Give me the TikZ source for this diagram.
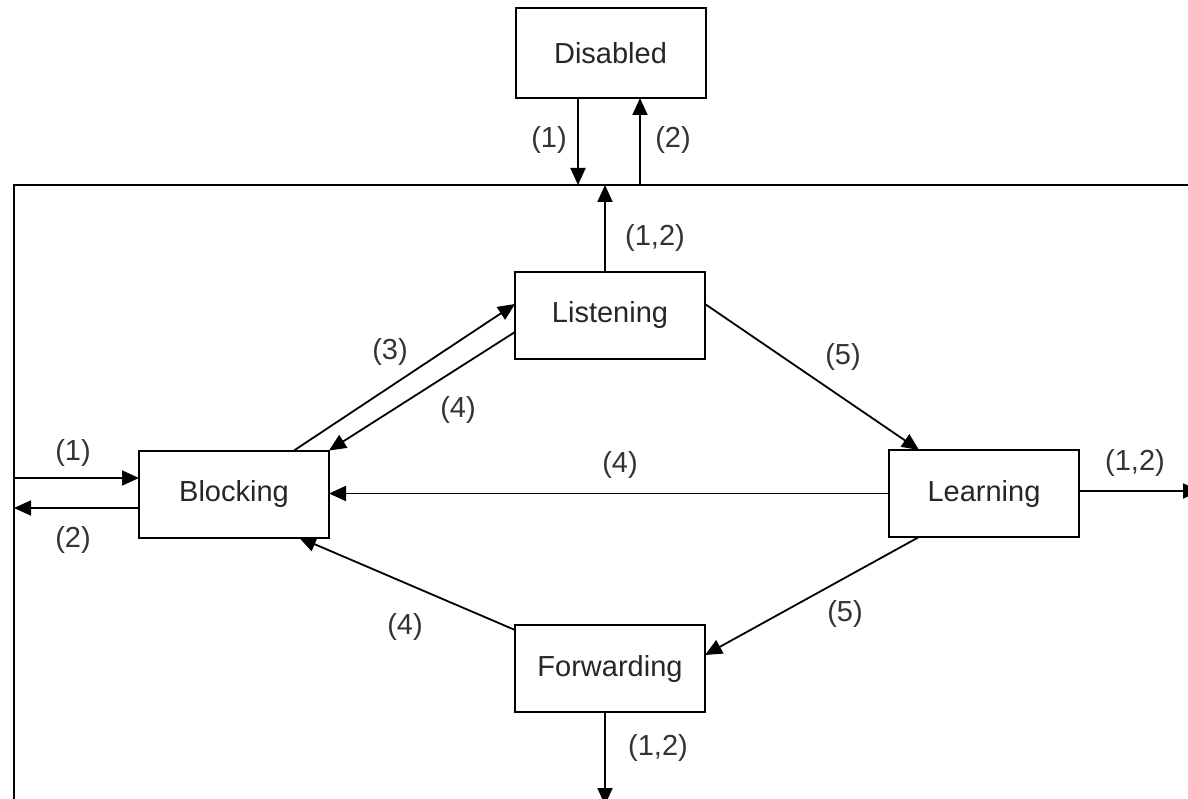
\documentclass[tikz,border=0pt]{standalone}
\usepackage{fontspec}
\setmainfont{Liberation Sans}
\usetikzlibrary{arrows.meta,calc}
\begin{document}
\begin{tikzpicture}[x=1pt,y=-1pt,
  state/.style={draw, line width=2pt, minimum width=190pt, minimum height=87pt, inner sep=0pt, outer sep=0pt, font=\fontsize{29}{34}\selectfont, text=black!85},
  conn/.style={line width=1.8pt, -{Triangle[length=17pt,width=15pt]}},
  lab/.style={font=\fontsize{29}{34}\selectfont, text=black!80, inner sep=0pt},
  frame/.style={line width=2pt}]
\useasboundingbox (0,0) rectangle (1188,799);
\clip (0,0) rectangle (1188,799);
% frame
\coordinate (fbl) at (14,810);
\coordinate (ftl) at (14,185);
\coordinate (ftr) at (1200,185);
\draw[frame] (fbl) -- (ftl) -- (ftr);
% states
\node[state, minimum height=90pt] (D) at (610.5,53) {Disabled};
\node[state] (L) at (610,315.5) {Listening};
\node[state] (B) at (234,494) {Blocking};
\node[state] (R) at (984,493.5) {Learning};
\node[state] (F) at (610,668.5) {Forwarding};
% top
\coordinate (t1) at (578,185);
\coordinate (t2) at (640,185);
\coordinate (t3) at (605,185);
\draw[conn] (t1 |- D.south) -- (t1);
\draw[conn] (t2) -- (t2 |- D.south);
\draw[conn] (t3 |- L.north) -- (t3);
\node[lab] at (549,140) {(1)};
\node[lab] at (673,140) {(2)};
\node[lab] at (655,238) {(1,2)};
% left
\coordinate (l1) at (14,478);
\coordinate (l2) at (14,508);
\draw[conn] (l1) -- (l1 -| B.west);
\draw[conn] (l2 -| B.west) -- (l2);
\node[lab] at (73,453) {(1)};
\node[lab] at (73,540) {(2)};
% Blocking <-> Listening
\draw[conn] ($(B.north west)+(155,0)$) -- ($(L.north west)+(0,32)$);
\draw[conn] ($(L.north west)+(0,60)$) -- (B.north east);
\node[lab] at (390,352) {(3)};
\node[lab] at (458,410) {(4)};
% Listening -> Learning
\draw[conn] ($(L.north east)+(0,32)$) -- ($(R.north west)+(30,0)$);
\node[lab] at (843,357) {(5)};
% Learning -> Blocking
\draw[conn] (R.west) -- (B.east |- R.west);
\node[lab] at (620,465) {(4)};
% Learning -> Forwarding
\draw[conn] ($(R.south west)+(30,0)$) -- ($(F.north east)+(0,30)$);
\node[lab] at (845,614) {(5)};
% Forwarding -> Blocking
\draw[conn] ($(F.north west)+(0,5)$) -- ($(B.south west)+(160,0)$);
\node[lab] at (405,627) {(4)};
% exits
\coordinate (rx) at (1200,491);
\coordinate (bx) at (605,805);
\draw[conn] (rx -| R.east) -- (rx);
\node[lab] at (1135,463) {(1,2)};
\draw[conn] (bx |- F.south) -- (bx);
\node[lab] at (658,748) {(1,2)};
\end{tikzpicture}
\end{document}
